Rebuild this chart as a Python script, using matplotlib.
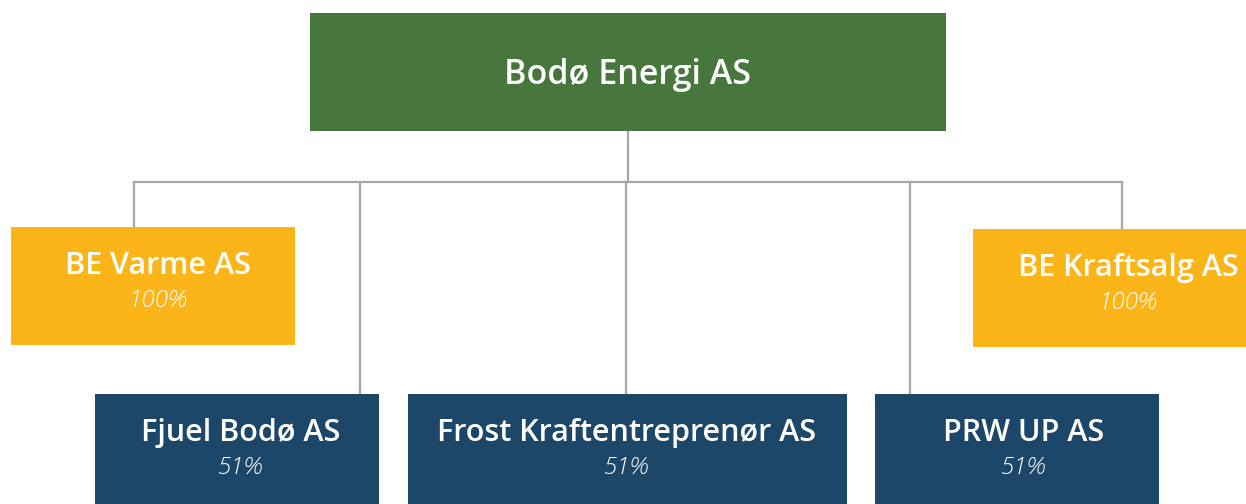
import matplotlib.pyplot as plt
from matplotlib.patches import Rectangle

# chart content
root_name = 'Bodø Energi AS'
child_names = ['BE Varme AS', 'BE Kraftsalg AS', 'Fjuel Bodø AS',
               'Frost Kraftentreprenør AS', 'PRW UP AS']
child_shares = ['100%', '100%', '51%', '51%', '51%']

# layout (pixels, y downwards)
root_box = (310, 13, 636, 118)
child_boxes = [(11, 227, 284, 118), (973, 229, 300, 118), (95, 394, 284, 120),
               (408, 394, 439, 120), (875, 394, 284, 120)]
child_text_x = [158, 1128, 241, 627, 1024]
child_anchor_x = [134, 1122, 360, 626, 910]
bus_y = 182

green = '#48773E'
yellow = '#FBB519'
navy = '#1D4769'
box_colors = [yellow, yellow, navy, navy, navy]
line_color = '#A6A6A6'

plt.rcParams['font.family'] = ['Open Sans', 'DejaVu Sans']

fig = plt.figure(figsize=(12.46, 5.04), dpi=100)
ax = fig.add_axes([0, 0, 1, 1])
ax.set_xlim(0, 1246)
ax.set_ylim(504, 0)
ax.axis('off')

# connectors
rx, ry, rw, rh = root_box
ax.plot([rx + rw / 2, rx + rw / 2], [ry + rh, bus_y], color=line_color, lw=1.6, zorder=1)
ax.plot([min(child_anchor_x), max(child_anchor_x)], [bus_y, bus_y], color=line_color, lw=1.6, zorder=1)
for x, (bx, by, bw, bh) in zip(child_anchor_x, child_boxes):
    ax.plot([x, x], [bus_y, by], color=line_color, lw=1.6, zorder=1)

# root box
ax.add_patch(Rectangle((rx, ry), rw, rh, facecolor=green, edgecolor='none', zorder=2))
ax.text(rx + rw / 2, 75, root_name, color='white', fontsize=24.5, fontweight='semibold',
        ha='center', va='center', zorder=3)

# child boxes
for name, share, col, (bx, by, bw, bh), tx in zip(child_names, child_shares, box_colors,
                                                   child_boxes, child_text_x):
    ax.add_patch(Rectangle((bx, by), bw, bh, facecolor=col, edgecolor='none', zorder=2))
    ax.text(tx, by + 39, name, color='white', fontsize=22, fontweight='semibold',
            ha='center', va='center', zorder=3)
    ax.text(tx, by + 74, share, color='white', fontsize=17.5, fontstyle='italic',
            fontweight='light', ha='center', va='center', zorder=3)

fig.savefig('out.png', dpi=100)
